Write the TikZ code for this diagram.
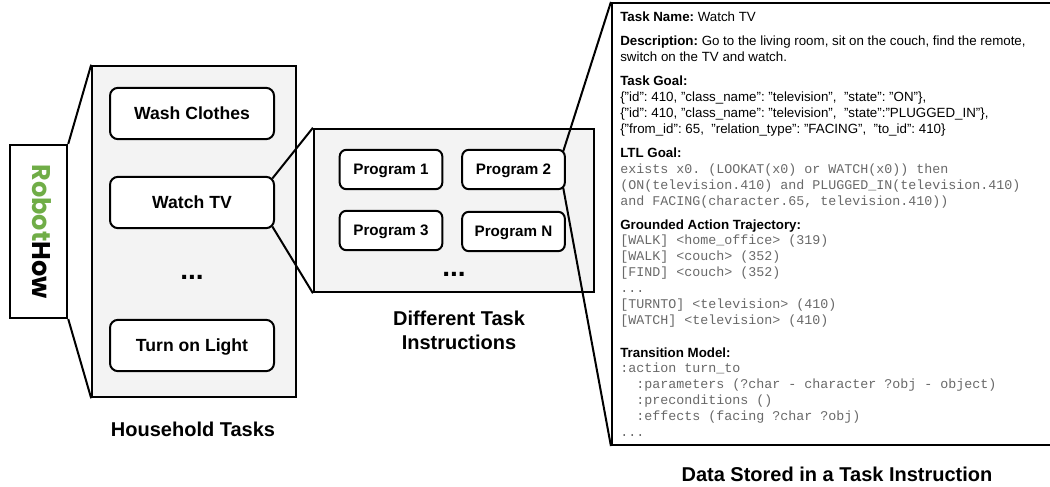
\documentclass[tikz,border=0pt]{standalone}
\usepackage{fontspec}
\setmainfont{Liberation Sans}
\setmonofont{Liberation Mono}
\newfontfamily\logofont{Poppins}
\usetikzlibrary{positioning}
\pgfdeclarelayer{panel}
\pgfdeclarelayer{link}
\pgfsetlayers{panel,link,main}
\definecolor{panelgrey}{RGB}{243,243,243}
\definecolor{codegrey}{RGB}{105,105,105}
\definecolor{logogreen}{RGB}{112,173,71}
\frenchspacing
\tikzset{
  x=0.75pt,y=-0.75pt,
  panelbox/.style={draw=black,line width=1.6pt,fill=panelgrey,inner sep=0pt},
  whitebox/.style={draw=black,line width=1.6pt,fill=white,inner sep=0pt},
  taskbox/.style={draw=black,line width=1.5pt,fill=white,rounded corners=6pt,minimum width=123pt,minimum height=38.5pt,inner sep=0pt,text height=9.5pt,text depth=0pt,font=\fontsize{13.2}{15}\selectfont\bfseries},
  progbox/.style={draw=black,line width=1.5pt,fill=white,rounded corners=5pt,minimum width=77pt,minimum height=29.5pt,inner sep=0pt,text height=8.2pt,text depth=0pt,font=\fontsize{11.4}{13}\selectfont\bfseries},
  caption/.style={align=center,inner sep=0pt,font=\fontsize{15}{18}\selectfont\bfseries},
  dotsnode/.style={inner sep=0pt,font=\fontsize{21}{21}\selectfont\bfseries},
  link/.style={draw=black,line width=1.5pt},
  txt/.style={anchor=base west,inner sep=0pt,font=\fontsize{10}{11}\selectfont},
  code/.style={anchor=base west,inner sep=0pt,text=codegrey,font=\fontsize{10}{10}\ttfamily},
}
\begin{document}
\begin{tikzpicture}
\clip (0,0) rectangle (1050,486);
\begin{pgfonlayer}{panel}
  \node[whitebox,minimum width=43pt,minimum height=129.75pt] (logobox) at (38.5,231.5) {};
  \node[panelbox,minimum width=153pt,minimum height=248.5pt] (house) at (194.25,231.5) {};
  \node[panelbox,minimum width=210pt,minimum height=122.5pt] (instr) at (454,210.5) {};
  \node[whitebox,minimum width=345pt,minimum height=331.5pt] (data) at (842,224) {};
\end{pgfonlayer}
\node[inner sep=0pt,rotate=-90] (logo) at (41.5,231.5) {\logofont\fontsize{19.2}{22}\selectfont\bfseries\textcolor{logogreen}{Robot}How};
\node[taskbox] (wash) at (192,113.5) {Wash Clothes};
\node[taskbox] (watch) at (192,202.5) {Watch TV};
\node[dotsnode] (dots1) at (192,277) {...};
\node[taskbox] (light) at (192,345.5) {Turn on Light};
\node[caption] (cap1) at (193,429) {Household Tasks};
\node[progbox] (p1) at (391,169.5) {Program 1};
\node[progbox] (p2) at (513.5,169.5) {Program 2};
\node[progbox] (p3) at (391,230.5) {Program 3};
\node[progbox] (pn) at (513.5,231.5) {Program N};
\node[dotsnode] (dots2) at (454,274) {...};
\node[caption] (cap2) at (459,330) {Different Task\\Instructions};
\node[caption] (cap3) at (837,474) {Data Stored in a Task Instruction};
\node[txt] (l1) at (620,21) {\textbf{Task Name:} Watch TV};
\node[txt] (l2) at (620,45) {\textbf{Description:} Go to the living room, sit on the couch, find the remote,};
\node[txt] (l3) at (620,61) {switch on the TV and watch.};
\node[txt] (l4) at (620,85) {\textbf{Task Goal:}};
\node[txt] (l5) at (620,101) {\{"id": 410, "class\_name": "television",\ \ "state": "ON"\},};
\node[txt] (l6) at (620,117) {\{"id": 410, "class\_name": "television",\ \ "state":"PLUGGED\_IN"\},};
\node[txt] (l7) at (620,133) {\{"from\_id": 65,\ \ "relation\_type": "FACING",\ \ "to\_id": 410\}};
\node[txt] (l8) at (620,157) {\textbf{LTL Goal:}};
\node[code] (l9) at (620,173) {exists x0. (LOOKAT(x0) or WATCH(x0)) then};
\node[code] (l10) at (620,189) {(ON(television.410) and PLUGGED\_IN(television.410)};
\node[code] (l11) at (620,205) {and FACING(character.65, television.410))};
\node[txt] (l12) at (620,229) {\textbf{Grounded Action Trajectory:}};
\node[code] (l13) at (620,244) {[WALK] <home\_office> (319)};
\node[code] (l14) at (620,260) {[WALK] <couch> (352)};
\node[code] (l15) at (620,276) {[FIND] <couch> (352)};
\node[code] (l16) at (620,292) {...};
\node[code] (l17) at (620,308) {[TURNTO] <television> (410)};
\node[code] (l18) at (620,324) {[WATCH] <television> (410)};
\node[txt] (l19) at (620,357) {\textbf{Transition Model:}};
\node[code] (l20) at (620,372) {:action turn\_to};
\node[code] (l21) at (620,388) {\ \ :parameters (?char - character ?obj - object)};
\node[code] (l22) at (620,404) {\ \ :preconditions ()};
\node[code] (l23) at (620,420) {\ \ :effects (facing ?char ?obj)};
\node[code] (l24) at (620,436) {...};
\begin{pgfonlayer}{link}
  \draw[link] (logobox.north east) -- (house.north west);
  \draw[link] (logobox.south east) -- (house.south west);
  \draw[link] ([xshift=-2pt,yshift=-2pt]watch.north east) -- (instr.north west);
  \draw[link] ([xshift=-2pt,yshift=2pt]watch.south east) -- (instr.south west);
  \draw[link] ([xshift=-2pt,yshift=-2pt]p2.north east) -- (data.north west);
  \draw[link] ([xshift=-2pt,yshift=2pt]p2.south east) -- (data.south west);
\end{pgfonlayer}
\end{tikzpicture}
\end{document}
